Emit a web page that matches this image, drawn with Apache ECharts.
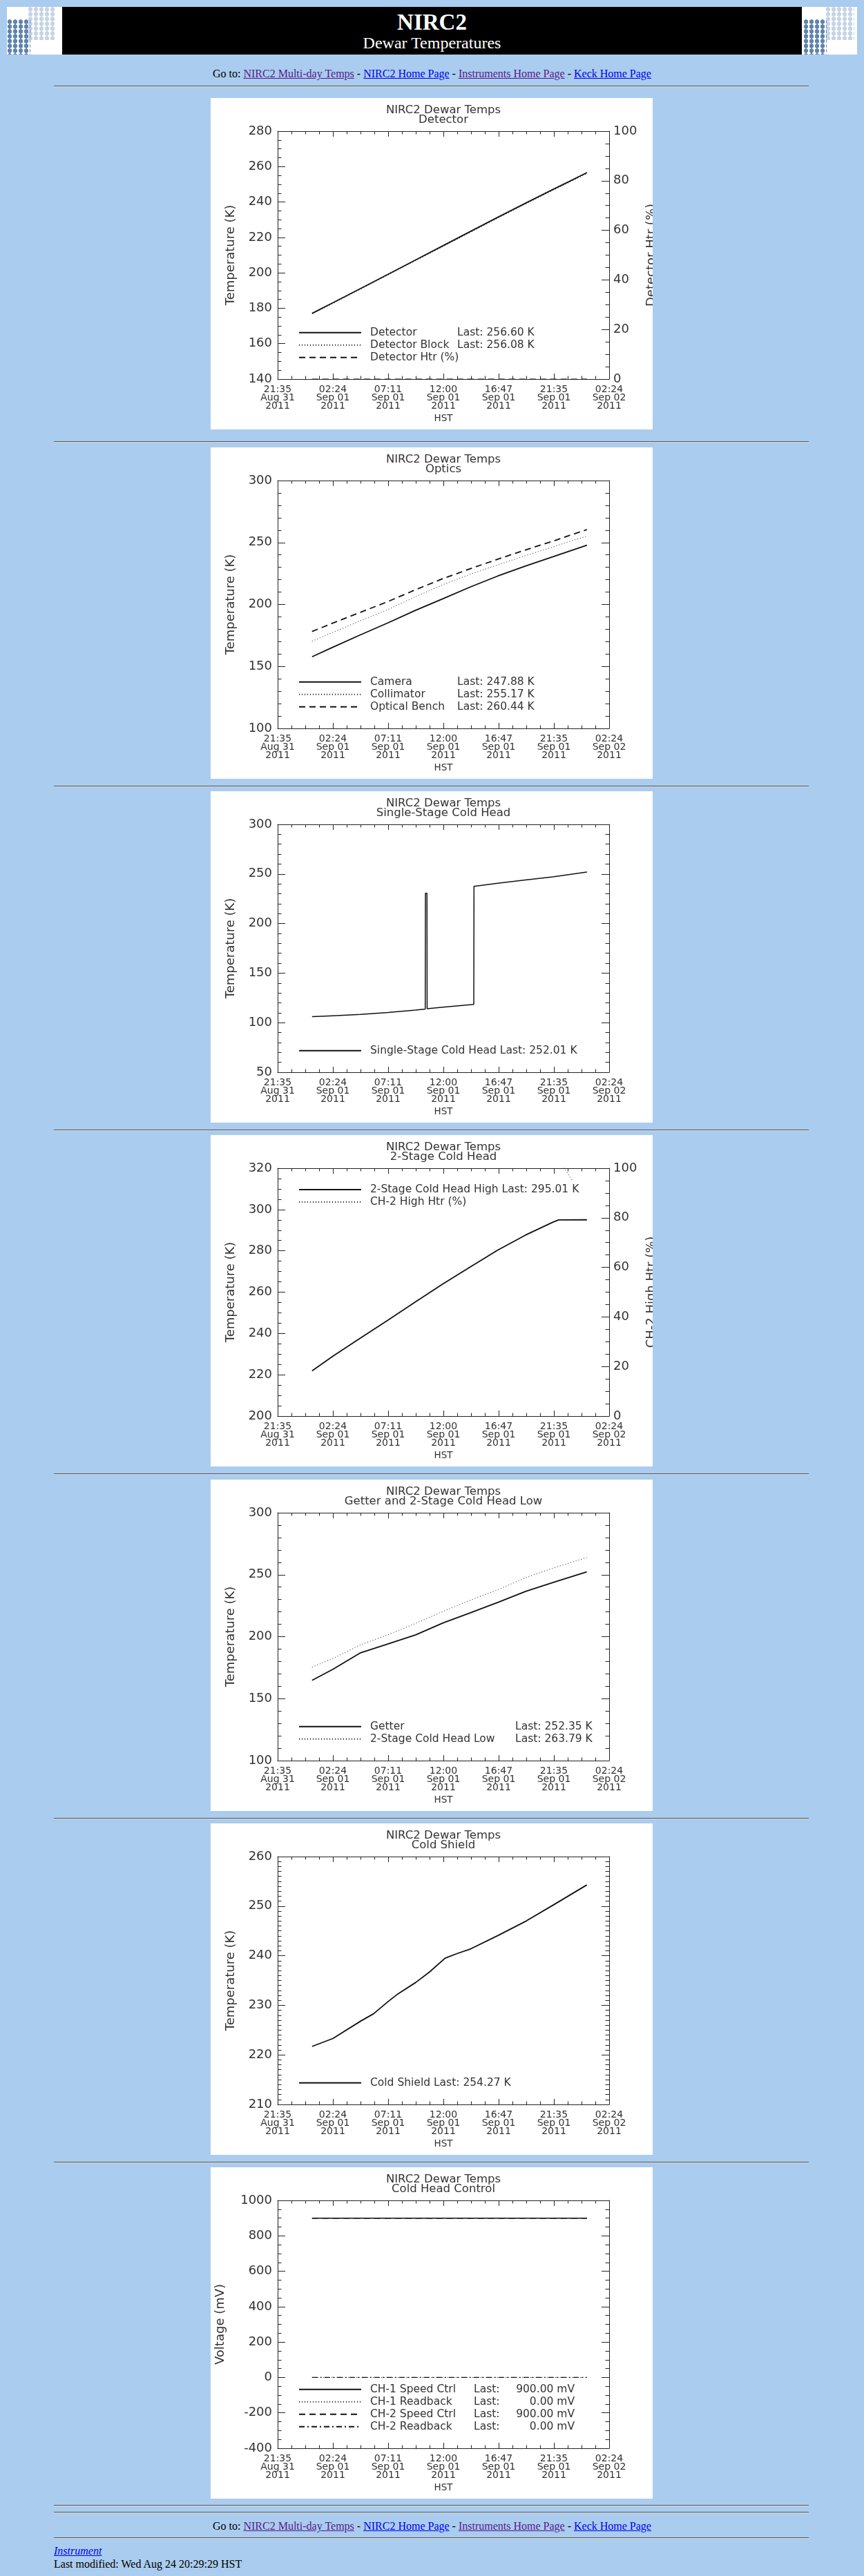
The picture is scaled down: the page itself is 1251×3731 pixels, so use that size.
<!DOCTYPE html>
<html>
<head>
<meta charset="utf-8">
<title>NIRC2 Dewar Temperatures</title>
<script src="https://cdn.jsdelivr.net/npm/echarts@6/dist/echarts.min.js"></script>
<style>
    body { margin: 0; background: #aaccee; }
    #page { position: relative; width: 1251px; height: 3731px; font-family: 'Liberation Serif', 'Times New Roman', serif; color: #000; }
    .banner { position: absolute; left: 10px; top: 10px; width: 1231px; height: 69px; background: #000; }
    .logo { position: absolute; top: 0; width: 80px; height: 69px; background: #fff; overflow: hidden; }
    .logo .d, .logo .l { position: absolute; background-size: 8px 7px; }
    .logo .d { background-image: radial-gradient(circle, #5f84ae 0 3px, transparent 3.5px); }
    .logo .l { background-image: radial-gradient(circle, #c6d4e6 0 3px, transparent 3.5px); }
    .txt { position: absolute; left: 0; width: 1251px; text-align: center; white-space: nowrap; }
    .line { position: absolute; left: 78px; width: 1093px; height: 0; border-top: 1px solid #555; border-bottom: 1px solid #d8d8d8; }
    .box { position: absolute; left: 305px; width: 640px; height: 480px; background: #fff; }
    .v { color: #551a8b; text-decoration: underline; }
    .b { color: #0000ee; text-decoration: underline; }
</style>
</head>
<body>
<div id="page">
    <div class="banner">
        <div class="logo" style="left:0">
            <div class="l" style="left:30px;top:0;width:40px;height:48px"></div>
            <div class="d" style="left:0;top:18px;width:34px;height:51px"></div>
        </div>
        <div class="logo" style="right:0">
            <div class="l" style="left:34px;top:0;width:42px;height:48px"></div>
            <div class="d" style="left:2px;top:18px;width:34px;height:51px"></div>
        </div>
    </div>
    <div class="txt" style="top:14px;font-size:33px;line-height:36px;font-weight:bold;color:#fff">NIRC2</div>
    <div class="txt" style="top:48px;font-size:24px;line-height:28px;color:#fff">Dewar Temperatures</div>
    <div class="txt" style="top:97px;font-size:16px;line-height:20px">Go to: <span class="v">NIRC2 Multi-day Temps</span> - <span class="b">NIRC2 Home Page</span> - <span class="v">Instruments Home Page</span> - <span class="b">Keck Home Page</span></div>
    <div class="line" style="top:124px"></div>

    <div class="box" id="echarts-0" style="top:142px"></div>
    <div class="line" style="top:639px"></div>
    <div class="box" id="echarts-1" style="top:648px"></div>
    <div class="line" style="top:1138px"></div>
    <div class="box" id="echarts-2" style="top:1146px"></div>
    <div class="line" style="top:1636px"></div>
    <div class="box" id="echarts-3" style="top:1644px"></div>
    <div class="line" style="top:2134px"></div>
    <div class="box" id="echarts-4" style="top:2143px"></div>
    <div class="line" style="top:2633px"></div>
    <div class="box" id="echarts-5" style="top:2641px"></div>
    <div class="line" style="top:3131px"></div>
    <div class="box" id="echarts-6" style="top:3139px"></div>
    <div class="line" style="top:3628px"></div>
    <div class="line" style="top:3638px"></div>

    <div class="txt" style="top:3649px;font-size:16px;line-height:20px">Go to: <span class="v">NIRC2 Multi-day Temps</span> - <span class="b">NIRC2 Home Page</span> - <span class="v">Instruments Home Page</span> - <span class="b">Keck Home Page</span></div>
    <div class="line" style="top:3675px"></div>
    <div class="txt" style="top:3685px;left:78px;width:auto;text-align:left;font-size:16px;line-height:20px;font-style:italic"><span class="b">Instrument</span></div>
    <div class="txt" style="top:3704px;left:78px;width:auto;text-align:left;font-size:16px;line-height:20px">Last modified: Wed Aug 24 20:29:29 HST</div>
</div>

<script>
// ---- 数据: x 轴刻度文字 (HST) ----
var xTickLabels = ['21:35\nAug 31\n2011', '02:24\nSep 01\n2011', '07:11\nSep 01\n2011', '12:00\nSep 01\n2011',
                   '16:47\nSep 01\n2011', '21:35\nSep 01\n2011', '02:24\nSep 02\n2011'];

// 时间写法: '日 时:分' (日 = Sep 的日期)
var timesStd = ['1 00:35', '1 02:24', '1 04:48', '1 07:11', '1 09:35', '1 12:00',
                '1 14:24', '1 16:47', '1 19:11', '1 21:35', '1 23:00', '2 00:33'];

// Detector
var detectorTemp      = [177.1, 183.1, 191.1, 199.1, 207.2, 215.3, 223.4, 231.4, 239.3, 247.1, 251.6, 256.60];
var detectorBlockTemp = [176.7, 182.7, 190.7, 198.7, 206.8, 214.8, 222.9, 230.9, 238.8, 246.6, 251.1, 256.08];
var detectorHtr       = [0, 0, 0, 0, 0, 0, 0, 0, 0, 0, 0, 0];

// Optics
var cameraTemp     = [157.8, 165.5, 175.5, 185.1, 195.2, 204.7, 214.2, 223.0, 231.0, 238.5, 243.0, 247.88];
var collimatorTemp = [170.4, 177.5, 186.8, 195.8, 206.2, 216.0, 224.5, 232.0, 239.4, 246.4, 250.8, 255.17];
var benchTemp      = [178.2, 185.0, 193.7, 202.3, 211.8, 220.9, 228.9, 236.6, 244.0, 251.1, 255.6, 260.44];

// Single-Stage Cold Head
var singleStageTimes = ['1 00:35', '1 02:24', '1 04:48', '1 07:11', '1 09:35', '1 10:27', '1 10:28', '1 10:36',
                        '1 10:37', '1 12:00', '1 14:41', '1 14:42', '1 16:47', '1 19:11', '1 21:35', '2 00:33'];
var singleStageTemp  = [106.0, 107.0, 108.3, 110.2, 112.6, 113.8, 230.5, 230.5,
                        114.0, 115.6, 118.5, 237.5, 240.6, 243.9, 247.0, 252.01];

// 2-Stage Cold Head
var twoStageTimes = ['1 00:35', '1 02:24', '1 04:48', '1 07:11', '1 09:35', '1 12:00',
                     '1 14:24', '1 16:47', '1 19:11', '1 21:35', '1 22:05', '2 00:33'];
var twoStageHigh  = [221.9, 229.0, 237.8, 246.4, 255.2, 264.0, 272.3, 280.4, 287.6, 293.9, 295.0, 295.01];
var ch2HtrTimes   = ['1 22:02', '1 23:14'];
var ch2Htr        = [104, 95.3];

// Getter and 2-Stage Cold Head Low
var getterTimes     = ['1 00:35', '1 02:24', '1 04:49', '1 07:11', '1 09:37', '1 12:00',
                       '1 14:26', '1 16:49', '1 19:15', '1 21:40', '2 00:32'];
var getterTemp      = [164.8, 173.7, 187.0, 194.1, 201.5, 211.1, 219.4, 227.8, 236.7, 243.9, 252.35];
var coldHeadLowTemp = [175.4, 182.4, 193.5, 201.5, 210.7, 220.4, 229.6, 238.0, 247.8, 255.6, 263.79];

// Cold Shield
var coldShieldTimes = ['1 00:35', '1 02:24', '1 04:49', '1 05:57', '1 07:11', '1 08:04', '1 09:37', '1 10:49',
                       '1 12:11', '1 13:11', '1 14:26', '1 16:49', '1 19:15', '1 21:40', '2 00:32'];
var coldShieldTemp  = [221.7, 223.3, 226.8, 228.3, 230.7, 232.3, 234.6, 236.7,
                       239.5, 240.4, 241.4, 244.1, 247.0, 250.3, 254.27];

// Cold Head Control (mV)
var controlTimes = ['1 00:35', '2 00:33'];
var ch1Speed     = [900, 900];
var ch1Readback  = [0, 0];
var ch2Speed     = [900, 900];
var ch2Readback  = [0, 0];

// ---- 函数 ----
var FONT = 'DejaVu Sans';
var INK = '#222';
var TXT = '#333';
var dashMap = { solid: 'solid', dotted: [1, 3], dashed: [9, 6], dashdot: [8, 4, 2, 4] };

// 分钟数, 从 Aug 31 21:35 起算
function toMin(s) {
    var p = s.split(' ');
    var hm = p[1].split(':');
    return (parseInt(p[0], 10) - 1) * 1440 + parseInt(hm[0], 10) * 60 + parseInt(hm[1], 10) + 145;
}

function pairs(times, vals) {
    return times.map(function(t, i) { return [toMin(t), vals[i]]; });
}

function tickStyle(len, minorCount, minorLen) {
    return {
        axisTick: { show: true, inside: true, length: len, lineStyle: { color: INK, width: 1 } },
        minorTick: { show: true, splitNumber: minorCount, length: minorLen, lineStyle: { color: INK, width: 1 } }
    };
}

function genXAxis(pos) {
    var t = tickStyle(8, 4, 4.5);
    return {
        type: 'value', gridIndex: 0, position: pos,
        min: 0, max: 1734, interval: 289,
        axisLine: { onZero: false, lineStyle: { color: INK, width: 1 } },
        axisTick: t.axisTick, minorTick: t.minorTick,
        splitLine: { show: false },
        axisLabel: pos === 'bottom' ? {
            show: true, margin: 9, color: TXT, fontFamily: FONT, fontSize: 14, lineHeight: 12,
            formatter: function(v) { return xTickLabels[Math.round(v / 289)] || ''; }
        } : { show: false },
        name: pos === 'bottom' ? 'HST' : '',
        nameLocation: 'middle', nameGap: 48,
        nameTextStyle: { color: TXT, fontFamily: FONT, fontSize: 13.5 }
    };
}

function genYAxis(pos, range, name, nameGap, showLabel) {
    var t = tickStyle(11, range[3], 5.5);
    return {
        type: 'value', position: pos,
        min: range[0], max: range[1], interval: range[2],
        axisLine: { show: true, onZero: false, lineStyle: { color: INK, width: 1 } },
        axisTick: t.axisTick, minorTick: t.minorTick,
        splitLine: { show: false },
        axisLabel: {
            show: showLabel, margin: pos === 'left' ? 8 : 6, color: TXT, fontFamily: FONT, fontSize: 18,
            formatter: function(v) { return String(v); }
        },
        name: name || '', nameLocation: 'middle', nameGap: nameGap,
        nameTextStyle: { color: TXT, fontFamily: FONT, fontSize: 18 }
    };
}

function genOption(cfg) {
    var yAxes = [genYAxis('left', cfg.y, cfg.yName, cfg.yNameGap || 59, true)];
    if (cfg.right) {
        yAxes.push(genYAxis('right', cfg.right.axis, cfg.right.name, 52, true));
    } else {
        yAxes.push(genYAxis('right', cfg.y, '', 0, false));
    }

    var cols = cfg.cols || {};
    var rows = cfg.series.length;
    var legendTop = cfg.legendAt === 'top' ? 70 : 366.7 - (rows - 1) * 18;

    var rich = {
        g: { width: 8, lineHeight: 18 },
        n: { fontFamily: FONT, fontSize: 15.5, color: TXT, lineHeight: 18 },
        l: { fontFamily: FONT, fontSize: 15.5, color: TXT, lineHeight: 18 },
        v: { fontFamily: FONT, fontSize: 15.5, color: TXT, lineHeight: 18 }
    };
    if (cols.n) { rich.n.width = cols.n; }
    if (cols.l) { rich.l.width = cols.l; }
    if (cols.v) { rich.v.width = cols.v; rich.v.align = 'right'; }

    var lastByName = {};
    cfg.series.forEach(function(s) { lastByName[s.name] = s.last; });

    var series = cfg.series.map(function(s) {
        return {
            name: s.name, type: 'line', yAxisIndex: s.yAxis || 0,
            data: pairs(s.times, s.data),
            symbol: 'none', showSymbol: false, silent: true, clip: true,
            color: '#111',
            itemStyle: { opacity: 0 },
            lineStyle: { color: '#111', width: s.width || 1.5, type: dashMap[s.dash] }
        };
    });

    return {
        animation: false,
        backgroundColor: '#fff',
        textStyle: { fontFamily: FONT },
        graphic: [{
            type: 'text', x: 337, y: 11, silent: true,
            style: {
                text: 'NIRC2 Dewar Temps\n' + cfg.title,
                align: 'center', verticalAlign: 'top',
                fill: TXT, fontFamily: FONT, fontSize: 16.5, lineHeight: 14
            }
        }],
        // v6 默认会把轴名字塞进画布内, 这里关掉
        grid: { left: 97, right: 63, top: 48, bottom: 73, containLabel: false, outerBoundsMode: 'none' },
        legend: {
            orient: 'vertical', left: 127, top: legendTop, padding: 0,
            itemWidth: 90, itemHeight: 12, itemGap: 0, selectedMode: false,
            itemStyle: { opacity: 0, borderWidth: 0 },
            data: cfg.series.map(function(s) { return s.name; }),
            textStyle: { fontFamily: FONT, fontSize: 15.5, color: TXT, lineHeight: 18, rich: rich },
            formatter: function(name) {
                var last = lastByName[name];
                if (!last) { return '{g| }{n|' + name + '}'; }
                if (cols.n) {
                    return '{g| }{n|' + name + '}{l|Last:}{v|' + (cols.v ? last : ' ' + last) + '}';
                }
                return '{g| }{n|' + name + ' Last: ' + last + '}';
            }
        },
        xAxis: [genXAxis('bottom'), genXAxis('top')],
        yAxis: yAxes,
        series: series
    };
}

// ---- 7 张图的配置 ----
var chartCfgs = [
    {
        title: 'Detector', yName: 'Temperature (K)', y: [140, 280, 20, 4],
        right: { name: 'Detector Htr (%)', axis: [0, 100, 20, 4] },
        cols: { n: 126 },
        series: [
            { name: 'Detector',         last: '256.60 K', times: timesStd, data: detectorTemp,      dash: 'solid', width: 1.8 },
            { name: 'Detector Block',   last: '256.08 K', times: timesStd, data: detectorBlockTemp, dash: 'dotted', width: 1 },
            { name: 'Detector Htr (%)', last: '',         times: timesStd, data: detectorHtr,       dash: 'dashed', width: 1, yAxis: 1 }
        ]
    },
    {
        title: 'Optics', yName: 'Temperature (K)', y: [100, 300, 50, 5],
        cols: { n: 126 },
        series: [
            { name: 'Camera',        last: '247.88 K', times: timesStd, data: cameraTemp,     dash: 'solid', width: 1.8 },
            { name: 'Collimator',    last: '255.17 K', times: timesStd, data: collimatorTemp, dash: 'dotted', width: 1 },
            { name: 'Optical Bench', last: '260.44 K', times: timesStd, data: benchTemp,      dash: 'dashed', width: 1.8 }
        ]
    },
    {
        title: 'Single-Stage Cold Head', yName: 'Temperature (K)', y: [50, 300, 50, 5],
        series: [
            { name: 'Single-Stage Cold Head', last: '252.01 K', times: singleStageTimes, data: singleStageTemp, dash: 'solid' }
        ]
    },
    {
        title: '2-Stage Cold Head', yName: 'Temperature (K)', y: [200, 320, 20, 4],
        right: { name: 'CH-2 High Htr (%)', axis: [0, 100, 20, 4] },
        legendAt: 'top',
        series: [
            { name: '2-Stage Cold Head High', last: '295.01 K', times: twoStageTimes, data: twoStageHigh, dash: 'solid', width: 1.8 },
            { name: 'CH-2 High Htr (%)',      last: '',         times: ch2HtrTimes,   data: ch2Htr,       dash: 'dotted', width: 1, yAxis: 1 }
        ]
    },
    {
        title: 'Getter and 2-Stage Cold Head Low', yName: 'Temperature (K)', y: [100, 300, 50, 5],
        cols: { n: 210 },
        series: [
            { name: 'Getter',                last: '252.35 K', times: getterTimes, data: getterTemp,      dash: 'solid', width: 1.8 },
            { name: '2-Stage Cold Head Low', last: '263.79 K', times: getterTimes, data: coldHeadLowTemp, dash: 'dotted', width: 1 }
        ]
    },
    {
        title: 'Cold Shield', yName: 'Temperature (K)', y: [210, 260, 10, 10],
        series: [
            { name: 'Cold Shield', last: '254.27 K', times: coldShieldTimes, data: coldShieldTemp, dash: 'solid', width: 1.8 }
        ]
    },
    {
        title: 'Cold Head Control', yName: 'Voltage (mV)', yNameGap: 74, y: [-400, 1000, 200, 4],
        cols: { n: 150, l: 46, v: 100 },
        series: [
            { name: 'CH-1 Speed Ctrl', last: '900.00 mV', times: controlTimes, data: ch1Speed,    dash: 'solid' },
            { name: 'CH-1 Readback',   last: '0.00 mV',   times: controlTimes, data: ch1Readback, dash: 'dotted', width: 1 },
            { name: 'CH-2 Speed Ctrl', last: '900.00 mV', times: controlTimes, data: ch2Speed,    dash: 'dashed' },
            { name: 'CH-2 Readback',   last: '0.00 mV',   times: controlTimes, data: ch2Readback, dash: 'dashdot', width: 1.2 }
        ]
    }
];

chartCfgs.forEach(function(cfg, i) {
    var myChart = echarts.init(document.getElementById('echarts-' + i), null, { renderer: 'canvas' });
    myChart.setOption(genOption(cfg));
});
</script>
</body>
</html>
